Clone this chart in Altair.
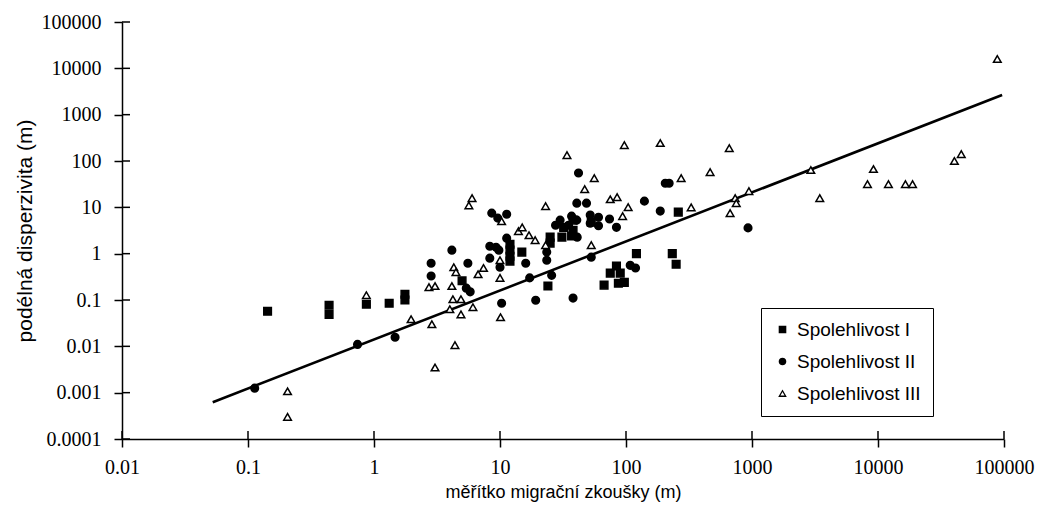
import altair as alt
import pandas as pd

# ---- data ----
series_names = ["Spolehlivost I", "Spolehlivost II", "Spolehlivost III"]

x_I = [0.143, 0.44, 0.44, 0.87, 1.32, 1.76, 1.76, 5.0, 12, 12, 12, 12, 14.9, 25, 25, 24,
       32, 31, 38, 38, 37, 53, 67, 75, 84, 90, 87, 97, 121, 233, 250, 260]
y_I = [0.057, 0.077, 0.049, 0.081, 0.085, 0.133, 0.1, 0.26, 1.6, 1.2, 0.88, 0.69, 1.08, 2.27, 1.69, 0.2,
       3.7, 2.27, 5.3, 3.2, 2.4, 4.8, 0.21, 0.38, 0.54, 0.38, 0.23, 0.24, 1.0, 1.0, 0.59, 7.9]

x_II = [0.113, 0.74, 1.47, 2.84, 2.84, 4.15, 5.56, 5.4, 5.8, 8.3, 9.3, 9.8, 8.3, 8.6, 9.6, 11.3,
        11.3, 16, 10, 10.3, 17.2, 19.2, 38, 23.5, 23.5, 25.7, 27.6, 30, 41, 40.7, 48.6, 42,
        37, 40.7, 35, 52, 60.5, 52, 60.5, 74, 84, 53, 108, 119, 140, 187, 205, 220, 930]
y_II = [0.00125, 0.011, 0.0157, 0.62, 0.33, 1.19, 0.62, 0.18, 0.15, 1.45, 1.38, 1.19, 0.8, 7.5, 5.85, 7.1,
        2.16, 0.62, 0.51, 0.085, 0.3, 0.099, 0.11, 1.08, 0.72, 0.34, 4.1, 5.3, 2.27, 12.3, 12.3, 55,
        6.45, 5.3, 4.1, 6.8, 6.1, 4.55, 4.0, 5.6, 3.7, 0.84, 0.56, 0.49, 13.6, 8.3, 33, 33, 3.6]

x_III = [0.206, 0.206, 0.87, 1.97, 2.73, 3.05, 2.88, 3.05, 4.39, 4.3, 4.47, 4.15, 4.23, 4.9, 4.0, 4.9,
         6.1, 6.0, 5.66, 6.7, 7.4, 10, 10, 10.1, 10.3, 14, 15, 17, 19, 23, 23, 34, 47, 56, 53,
         75, 85, 104, 94, 97, 187, 274, 329, 465, 660, 735, 750, 945, 670, 2930, 3450, 8250,
         9200, 12100, 16500, 18800, 40400, 45800, 88500]
y_III = [0.00107, 0.0003, 0.127, 0.0385, 0.19, 0.2, 0.03, 0.0035, 0.0106, 0.51, 0.4, 0.2, 0.104, 0.104, 0.063, 0.049,
         0.07, 15.8, 11, 0.36, 0.49, 0.72, 0.3, 0.0425, 5.0, 3.06, 3.7, 2.5, 1.96, 10.6, 1.53, 134, 24.7, 42.7, 1.53,
         14.9, 16.6, 10.1, 6.45, 220, 244, 42.7, 10, 57.5, 190, 15.8, 12.3, 22.4, 7.5, 63.7, 15.8, 31.7,
         67, 31.7, 31.7, 31.7, 100, 141, 15900]

line_x = [0.0525, 96600]
line_y = [0.00062, 2650]

x_ticks = [0.01, 0.1, 1, 10, 100, 1000, 10000, 100000]
y_ticks = [0.0001, 0.001, 0.01, 0.1, 1, 10, 100, 1000, 10000, 100000]

x_title = "měřítko migrační zkoušky (m)"
y_title = "podélná disperzivita (m)"

# ---- tables ----
pts = pd.concat([
    pd.DataFrame({"x": x_I, "y": y_I, "series": series_names[0]}),
    pd.DataFrame({"x": x_II, "y": y_II, "series": series_names[1]}),
    pd.DataFrame({"x": x_III, "y": y_III, "series": series_names[2]}),
], ignore_index=True)
line_df = pd.DataFrame({"x": line_x, "y": line_y})
xt_df = pd.DataFrame({"x": x_ticks})
yt_df = pd.DataFrame({"y": y_ticks})

W, H = 882, 417
xs = alt.Scale(type="log", domain=[0.01, 100000], nice=False)
ys = alt.Scale(type="log", domain=[0.0001, 100000], nice=False)

common_axis = dict(
    format=".4~f", grid=False, labelFont="Liberation Serif", labelFontSize=20,
    labelColor="black", titleFont="Liberation Sans", titleFontWeight="normal",
    titleColor="black", tickColor="black", tickWidth=1.5, tickSize=8,
    domainColor="black", domainWidth=1.5, labelFlush=False, labelOverlap=False,
)

x_axis = alt.Axis(values=x_ticks, title=x_title, titleFontSize=18,
                  labelPadding=10, titlePadding=6, **common_axis)
y_axis = alt.Axis(values=y_ticks, title=y_title, titleFontSize=21,
                  labelPadding=13, titlePadding=6, **common_axis)

legend = alt.Legend(
    title=None, orient="none", legendX=639, legendY=286,
    strokeColor="black", fillColor="white", padding=12, rowPadding=12,
    symbolSize=40, symbolStrokeWidth=1.3,
    labelFont="Liberation Sans", labelFontSize=19, labelColor="black", labelOffset=5,
)

X = alt.X("x:Q", scale=xs, axis=x_axis)
Y = alt.Y("y:Q", scale=ys, axis=y_axis)

line = alt.Chart(line_df).mark_line(color="black", strokeWidth=2.6).encode(x=X, y=Y)

points = alt.Chart(pts).mark_point(strokeWidth=1.5, size=58, opacity=1,
                                   fillOpacity=1, strokeOpacity=1).encode(
    x=X, y=Y,
    shape=alt.Shape("series:N", scale=alt.Scale(domain=series_names,
                                                range=["square", "circle", "triangle-up"]),
                    legend=legend),
    fill=alt.Fill("series:N", scale=alt.Scale(domain=series_names,
                                              range=["black", "black", "white"]),
                  legend=legend),
    stroke=alt.Stroke("series:N", scale=alt.Scale(domain=series_names,
                                                  range=["black", "black", "black"]),
                      legend=legend),
)

# inward halves of the crossing tick marks
y_in = alt.Chart(yt_df).mark_rule(color="black", strokeWidth=1.5).encode(
    y=Y, x=alt.value(0), x2=alt.value(8))
x_in = alt.Chart(xt_df).mark_rule(color="black", strokeWidth=1.5).encode(
    x=X, y=alt.value(H), y2=alt.value(H - 8))

chart = alt.layer(line, points, y_in, x_in).properties(
    width=W, height=H,
    autosize=alt.AutoSizeParams(type="none"),
    padding={"left": 114, "top": 14, "right": 33, "bottom": 64},
    background="white",
).configure_view(stroke=None)

chart.save("out.html", embed_options={"renderer": "svg", "actions": False})
